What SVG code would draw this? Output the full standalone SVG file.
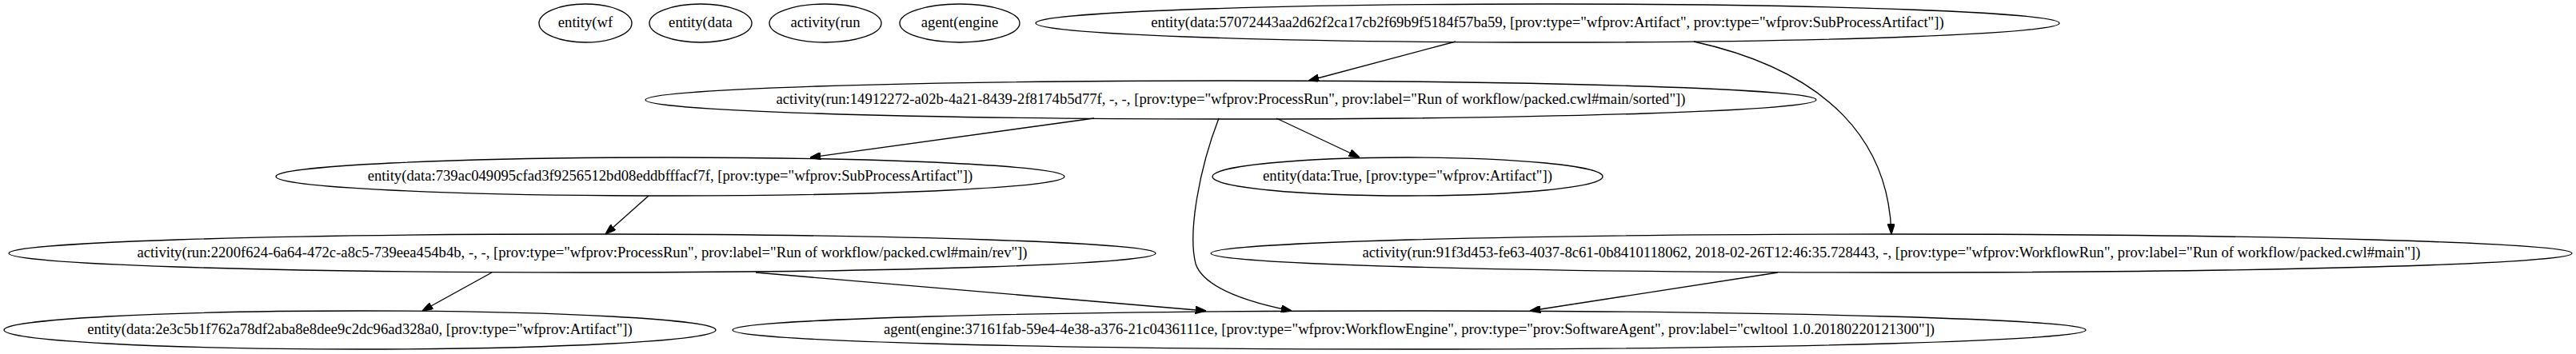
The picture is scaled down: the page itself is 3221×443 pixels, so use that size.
<svg xmlns="http://www.w3.org/2000/svg" width="3221" height="443" viewBox="0 0 3221 443">
<style>
.n ellipse{fill:none;stroke:#000;stroke-width:1.33}
.n text{font-family:"Liberation Serif","Times New Roman",serif;font-size:18.67px;fill:#000;text-anchor:middle}
#edges path{fill:none;stroke:#000;stroke-width:1.33;marker-end:url(#ah)}
</style>
<defs>
<marker id="ah" viewBox="0 0 10 7" refX="10" refY="3.5" markerWidth="13.3" markerHeight="9.3" markerUnits="userSpaceOnUse" orient="auto">
<path d="M0,0 L10,3.5 L0,7 z" fill="#000" stroke="#000" stroke-width="1"/>
</marker>
</defs>
<rect width="3221" height="443" fill="#fff"/>
<g id="n_wf" class="n"><ellipse cx="732" cy="29" rx="58" ry="24"/><text x="732" y="34">entity(wf</text></g>
<g id="n_data" class="n"><ellipse cx="876" cy="29" rx="64" ry="24"/><text x="876" y="34">entity(data</text></g>
<g id="n_run" class="n"><ellipse cx="1032" cy="29" rx="70" ry="24"/><text x="1032" y="34">activity(run</text></g>
<g id="n_engine" class="n"><ellipse cx="1200" cy="29" rx="75" ry="24"/><text x="1200" y="34">agent(engine</text></g>
<g id="n_e5707" class="n"><ellipse cx="1935" cy="29" rx="640" ry="24"/><text x="1935" y="34">entity(data:57072443aa2d62f2ca17cb2f69b9f5184f57ba59, [prov:type="wfprov:Artifact", prov:type="wfprov:SubProcessArtifact"])</text></g>
<g id="n_a1491" class="n"><ellipse cx="1539" cy="125" rx="732" ry="24"/><text x="1539" y="130">activity(run:14912272-a02b-4a21-8439-2f8174b5d77f, -, -, [prov:type="wfprov:ProcessRun", prov:label="Run of workflow/packed.cwl#main/sorted"])</text></g>
<g id="n_e739" class="n"><ellipse cx="838" cy="221" rx="493" ry="24"/><text x="838" y="226">entity(data:739ac049095cfad3f9256512bd08eddbfffacf7f, [prov:type="wfprov:SubProcessArtifact"])</text></g>
<g id="n_etrue" class="n"><ellipse cx="1760" cy="221" rx="244" ry="24"/><text x="1760" y="226">entity(data:True, [prov:type="wfprov:Artifact"])</text></g>
<g id="n_a2200" class="n"><ellipse cx="728" cy="317" rx="717" ry="24"/><text x="728" y="322">activity(run:2200f624-6a64-472c-a8c5-739eea454b4b, -, -, [prov:type="wfprov:ProcessRun", prov:label="Run of workflow/packed.cwl#main/rev"])</text></g>
<g id="n_a91f3" class="n"><ellipse cx="2365" cy="317" rx="851" ry="24"/><text x="2365" y="322">activity(run:91f3d453-fe63-4037-8c61-0b8410118062, 2018-02-26T12:46:35.728443, -, [prov:type="wfprov:WorkflowRun", prov:label="Run of workflow/packed.cwl#main"])</text></g>
<g id="n_e2e3c" class="n"><ellipse cx="450" cy="413" rx="445" ry="24"/><text x="450" y="418">entity(data:2e3c5b1f762a78df2aba8e8dee9c2dc96ad328a0, [prov:type="wfprov:Artifact"])</text></g>
<g id="n_agent" class="n"><ellipse cx="1762" cy="413" rx="846" ry="24"/><text x="1762" y="418">agent(engine:37161fab-59e4-4e38-a376-21c0436111ce, [prov:type="wfprov:WorkflowEngine", prov:type="prov:SoftwareAgent", prov:label="cwltool 1.0.20180220121300"])</text></g>
<g id="edges">
<path d="M1820,52 L1636,101"/>
<path d="M2118,52 C2290,90 2362,180 2365,293"/>
<path d="M1368,148 L1013,197"/>
<path d="M1596,148 L1700,197"/>
<path d="M1524,148 C1500,210 1485,290 1495,330 C1505,360 1560,378 1615,389"/>
<path d="M811,245 L757,293"/>
<path d="M615,341 L528,389"/>
<path d="M945,341 L1508,389"/>
<path d="M2223,341 L1913,389"/>
</g>
</svg>
